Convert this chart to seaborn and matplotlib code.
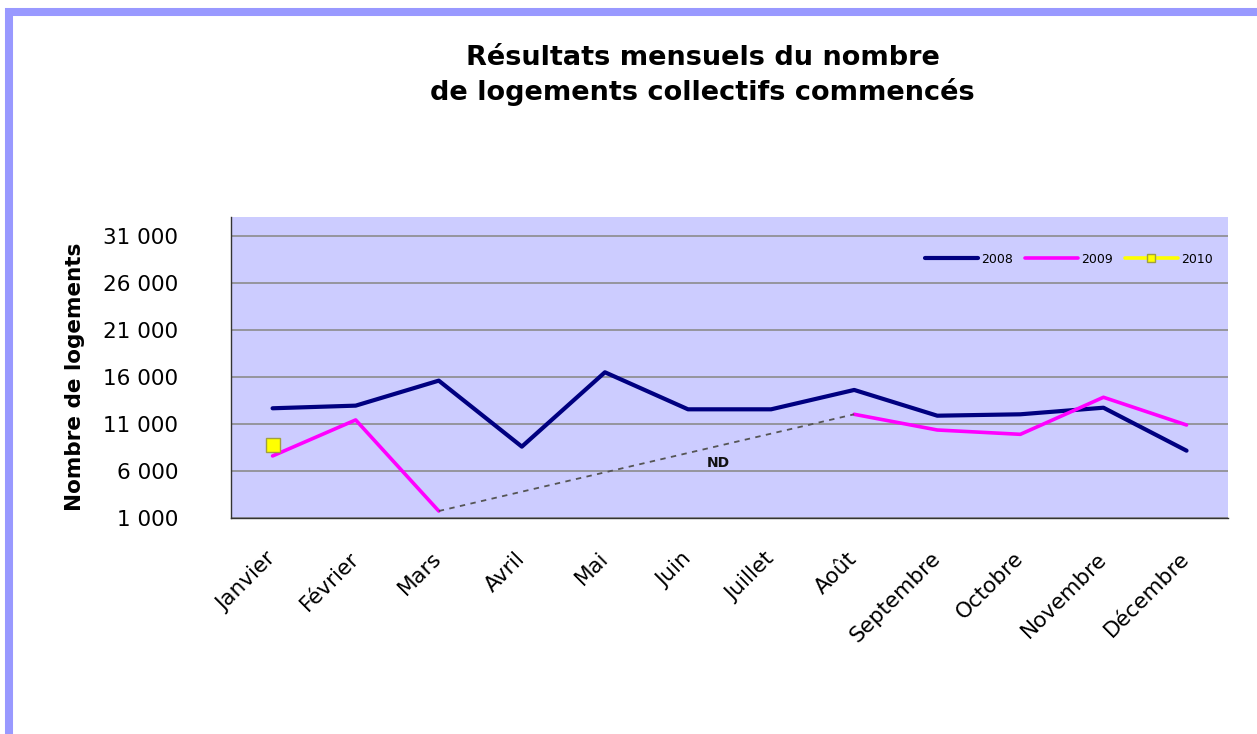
import numpy as np
import pandas as pd
import matplotlib
matplotlib.use("Agg")
import matplotlib.pyplot as plt
from matplotlib.patches import Rectangle
import seaborn as sns

# données
mois = ["Janvier", "Février", "Mars", "Avril", "Mai", "Juin", "Juillet",
        "Août", "Septembre", "Octobre", "Novembre", "Décembre"]
v2008 = [12670, 12950, 15610, 8590, 16500, 12560, 12560, 14620, 11880, 12030, 12730, 8160]
v2009 = [7600, 11430, 1740, np.nan, np.nan, np.nan, np.nan, 12030, 10360, 9900, 13840, 10890]
v2010 = [8770] + [np.nan] * 11
yticks = [1000, 6000, 11000, 16000, 21000, 26000, 31000]

df = pd.DataFrame({"x": np.arange(len(mois)), "2008": v2008, "2009": v2009, "2010": v2010})

sns.set_style("white")
plt.rcParams["font.family"] = ["DejaVu Sans"]
plt.rcParams["text.color"] = "black"
plt.rcParams["xtick.color"] = "black"
plt.rcParams["ytick.color"] = "black"
plt.rcParams["axes.labelcolor"] = "black"

fig = plt.figure(figsize=(12.57, 7.34), dpi=100)
ax = fig.add_axes([0.1838, 0.2943, 0.7932, 0.4101])
ax.set_facecolor("#CCCCFF")

# cadre violet autour de la figure
fig.patches.append(Rectangle((0.0069, -0.2), 1.2, 1.1837, transform=fig.transFigure,
                             fill=False, edgecolor="#9999FF", linewidth=5.8))


def segments(col):
    # découpe la série là où il manque des valeurs
    d = df[["x", col]]
    grp = d[col].isna().cumsum()
    return [g.dropna() for _, g in d.groupby(grp) if g[col].notna().any()]


sns.lineplot(data=df, x="x", y="2008", color="#000080", linewidth=3, label="2008", ax=ax)

for i, seg in enumerate(segments("2009")):
    sns.lineplot(data=seg, x="x", y="2009", color="#FF00FF", linewidth=2.6,
                 label="2009" if i == 0 else None, ax=ax)

# ligne pointillée pour la période non disponible
s = df["2009"]
last = s[:s.isna().idxmax()].last_valid_index()
first = s[s.isna().idxmax():].first_valid_index()
gap = df.loc[[last, first], ["x", "2009"]]
sns.lineplot(data=gap, x="x", y="2009", color="#555555", linewidth=1.3,
             linestyle=(0, (3, 3)), ax=ax)
ax.text(5.37, 6850, "ND", fontsize=10, fontweight="bold", color="#111111",
        ha="center", va="center")

sns.lineplot(data=df.dropna(subset=["2010"]), x="x", y="2010", color="#FFFF00",
             linewidth=2.6, marker="s", markersize=10, markerfacecolor="#FFFF00",
             markeredgecolor="#A0A040", markeredgewidth=1, label="2010", ax=ax)

ax.set_xlim(-0.5, 11.5)
ax.set_ylim(1000, 33020)
ax.set_yticks(yticks)
ax.set_yticklabels([f"{v:,}".replace(",", " ") for v in yticks], fontsize=15.5)
ax.yaxis.grid(True, color="#8C8C8C", linewidth=1.2)
ax.xaxis.grid(False)

ax.set_xticks(df["x"])
ax.set_xticklabels(mois, rotation=45, ha="right", va="center",
                   rotation_mode="anchor", fontsize=15.5)
ax.set_xticks(np.arange(-0.5, 12, 1), minor=True)
ax.tick_params(axis="x", which="major", length=0, pad=27)
ax.tick_params(axis="x", which="minor", length=7, width=1, color="#333333", direction="out")
ax.tick_params(axis="y", length=6, width=1, color="#333333", direction="out", pad=32)

for side in ["top", "right"]:
    ax.spines[side].set_visible(False)
for side in ["left", "bottom"]:
    ax.spines[side].set_color("#333333")
    ax.spines[side].set_linewidth(1)

ax.set_xlabel("")
ax.set_ylabel("Nombre de logements", fontsize=15.5, fontweight="bold")
ax.yaxis.set_label_coords(-0.1464, 0.468)

ax.legend(loc="center right", bbox_to_anchor=(0.985, 0.86), ncol=3, frameon=False,
          fontsize=9, handlelength=4.2, handletextpad=0.3, columnspacing=0.95,
          borderaxespad=0, borderpad=0, markerscale=0.6)

fig.text(0.559, 0.897, "Résultats mensuels du nombre\nde logements collectifs commencés",
         ha="center", va="center", fontsize=19.5, fontweight="bold", linespacing=1.3)

fig.savefig("out.png", dpi=100)
